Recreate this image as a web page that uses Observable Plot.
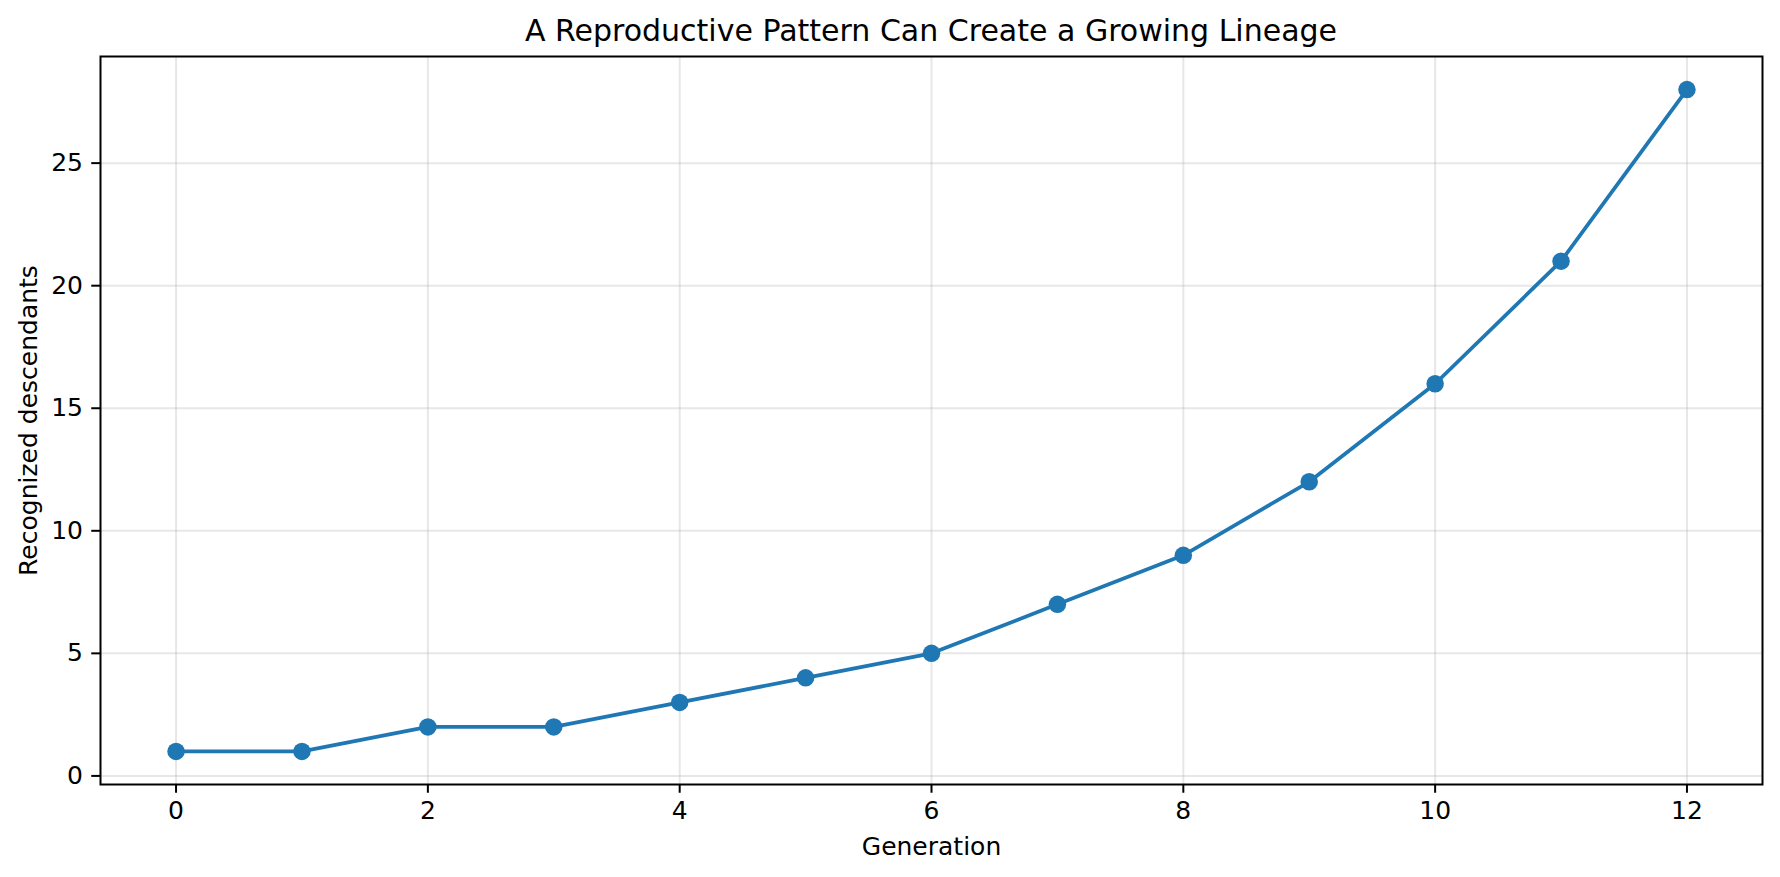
<!DOCTYPE html>
<html>
<head>
<meta charset="utf-8">
<script src="https://cdn.jsdelivr.net/npm/d3@7"></script>
<script src="https://cdn.jsdelivr.net/npm/@observablehq/plot@0.6"></script>
<style>
  html, body { margin: 0; padding: 0; background: #fff; overflow: hidden; }
  #title {
    margin-left: 100px; width: 1662px; height: 54px;
    font-family: "DejaVu Sans", sans-serif; font-size: 30px; color: #000;
    text-align: center; line-height: 62px; white-space: nowrap;
  }
  #chart svg { display: block; }
</style>
</head>
<body>
<div id="title"></div>
<div id="chart"></div>
<script>
const titleText = "A Reproductive Pattern Can Create a Growing Lineage";
const xLabel = "Generation";
const yLabel = "Recognized descendants";
const generations = [0, 1, 2, 3, 4, 5, 6, 7, 8, 9, 10, 11, 12];
const descendants = [1, 1, 2, 2, 3, 4, 5, 7, 9, 12, 16, 21, 28];
const xTicks = [0, 2, 4, 6, 8, 10, 12];
const yTicks = [0, 5, 10, 15, 20, 25];

document.getElementById("title").textContent = titleText;

const data = generations.map((g, i) => ({generation: g, count: descendants[i]}));
const blue = "#1f77b4";

const chart = Plot.plot({
  width: 1780,
  height: 823,
  marginTop: 2,
  marginRight: 18,
  marginBottom: 93,
  marginLeft: 100,
  style: {fontFamily: "DejaVu Sans, sans-serif", fontSize: "25px", color: "#000", background: "#fff"},
  x: {domain: [-0.6, 12.6]},
  y: {domain: [-0.35, 29.35]},
  marks: [
    Plot.gridX(xTicks, {stroke: "#b0b0b0", strokeOpacity: 0.3, strokeWidth: 2}),
    Plot.gridY(yTicks, {stroke: "#b0b0b0", strokeOpacity: 0.3, strokeWidth: 2}),
    Plot.axisX(xTicks, {label: null, tickSize: 8.75, tickPadding: 8, strokeWidth: 2, tickFormat: d => String(d)}),
    Plot.axisY(yTicks, {label: null, tickSize: 8.75, tickPadding: 8.75, strokeWidth: 2, tickFormat: d => String(d)}),
    Plot.line(data, {x: "generation", y: "count", stroke: blue, strokeWidth: 3.75}),
    Plot.dot(data, {x: "generation", y: "count", r: 8.75, fill: blue, stroke: null}),
    Plot.frame({stroke: "#000", strokeWidth: 2}),
    Plot.text([xLabel], {text: d => d, frameAnchor: "bottom", dy: 62, lineAnchor: "middle", textAnchor: "middle", fill: "#000"}),
    Plot.text([yLabel], {text: d => d, frameAnchor: "left", dx: -72, rotate: -90, lineAnchor: "middle", textAnchor: "middle", fill: "#000"})
  ]
});
document.getElementById("chart").appendChild(chart);
</script>
</body>
</html>
